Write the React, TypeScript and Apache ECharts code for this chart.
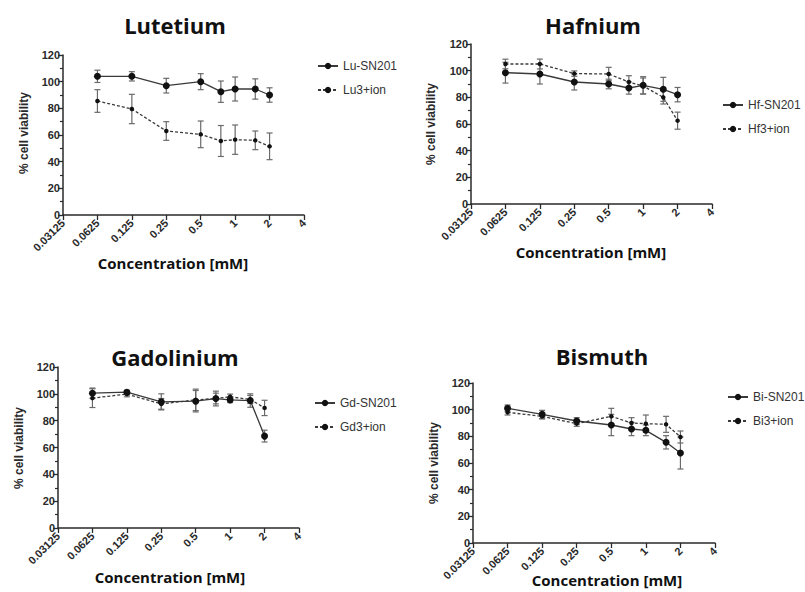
import React, { useEffect, useRef } from "react";
import * as echarts from "echarts";

// ---- data ----
const CONC = [0.0625, 0.125, 0.25, 0.5, 0.75, 1, 1.5, 2];
const X_MIN = 0.03125;
const X_MAX = 4;

const luSN201 = [104, 104, 97, 100, 92.5, 94.5, 94.5, 90];
const luSN201Err = [4.6, 3.5, 5.5, 6, 8, 9, 7.6, 5.4];
const luIon = [85.5, 79.5, 63, 60.5, 55.5, 56.5, 56, 51.5];
const luIonErr = [8.5, 11, 7, 10, 11.6, 11, 7, 10];

const hfSN201 = [98.5, 97.5, 91.5, 90, 87, 89, 86, 82];
const hfSN201Err = [7.8, 7.5, 6, 3.6, 4.6, 6.5, 9, 5.4];
const hfIon = [105, 105, 97.8, 97.5, 91.5, 88.5, 80, 62.5];
const hfIonErr = [3.6, 3.7, 2, 5, 4.7, 6, 5, 6.4];

const gdSN201 = [100.5, 101.2, 94, 94.5, 96.5, 95.5, 95, 68.5];
const gdSN201Err = [3.8, 1.5, 6, 8, 5.5, 2, 5, 4.4];
const gdIon = [96.8, 99.8, 92.5, 95.5, 96.5, 97.8, 95.8, 89.5];
const gdIonErr = [7, 2, 4, 8, 4, 2, 3, 5.7];

const biSN201 = [101, 96.5, 91.5, 88.5, 85.5, 84.5, 75.5, 67.5];
const biSN201Err = [2.5, 3, 2.5, 8, 5, 4, 5, 12];
const biIon = [98, 95, 89.5, 95, 90, 89.5, 89, 79.5];
const biIonErr = [2, 2, 2, 6, 4, 6.5, 6, 4.5];

const Y_MAX = 120;
const Y_INTERVAL = 20;

const TITLES = ["Lutetium", "Hafnium", "Gadolinium", "Bismuth"];
const SERIES_A = ["Lu-SN201", "Hf-SN201", "Gd-SN201", "Bi-SN201"];
const SERIES_B = ["Lu3+ion", "Hf3+ion", "Gd3+ion", "Bi3+ion"];
const Y_NAME = "% cell viability";
const X_NAME = "Concentration [mM]";

const VALUES_A = [luSN201, hfSN201, gdSN201, biSN201];
const ERRS_A = [luSN201Err, hfSN201Err, gdSN201Err, biSN201Err];
const VALUES_B = [luIon, hfIon, gdIon, biIon];
const ERRS_B = [luIonErr, hfIonErr, gdIonErr, biIonErr];

// ---- layout ----
const GRIDS = [
  { left: 63, top: 55, width: 241, height: 160 },
  { left: 471, top: 44, width: 241, height: 160 },
  { left: 58, top: 367, width: 241, height: 161 },
  { left: 473, top: 383, width: 242, height: 160 },
];
const TITLE_POS = [
  [175, 25],
  [593, 25],
  [175, 357],
  [602, 356],
];
const XNAME_POS = [
  [173, 263],
  [591, 252],
  [170, 577],
  [607, 580],
];
const YNAME_POS = [
  [24, 133],
  [431, 124],
  [19, 448],
  [434, 463],
];
const LEGEND_POS = [
  [312, 55],
  [717, 94],
  [309, 392],
  [722, 386],
];

const AXIS_FONT = "'Liberation Sans', Arial, sans-serif";
const TITLE_FONT = "'Open Sans', 'Noto Sans', sans-serif";

function fmt(v: number) {
  return String(Number(Number(v).toPrecision(6)));
}

export default function App() {
  const ref = useRef<HTMLDivElement>(null);

  useEffect(() => {
    if (!ref.current) return;
    const chart = echarts.init(ref.current, null, { renderer: "svg" });

    const grids: any[] = [];
    const xAxes: any[] = [];
    const yAxes: any[] = [];
    const series: any[] = [];
    const legends: any[] = [];
    const graphics: any[] = [];

    const errRender = (params: any, api: any) => {
      const x = api.value(0);
      const y = api.value(1);
      const e = api.value(2);
      const top = api.coord([x, y + e]);
      const bot = api.coord([x, y - e]);
      const cap = 3;
      const style = { stroke: "#6a6a6a", lineWidth: 1.2 };
      return {
        type: "group",
        children: [
          { type: "line", shape: { x1: top[0], y1: top[1], x2: bot[0], y2: bot[1] }, style },
          { type: "line", shape: { x1: top[0] - cap, y1: top[1], x2: top[0] + cap, y2: top[1] }, style },
          { type: "line", shape: { x1: bot[0] - cap, y1: bot[1], x2: bot[0] + cap, y2: bot[1] }, style },
        ],
      };
    };

    for (let i = 0; i < 4; i++) {
      grids.push({ ...GRIDS[i], containLabel: false });
      xAxes.push({
        type: "log",
        logBase: 2,
        gridIndex: i,
        min: X_MIN,
        max: X_MAX,
        axisLine: { show: true, lineStyle: { color: "#2a2a2a", width: 1.5 } },
        axisTick: { show: true, length: 5, lineStyle: { color: "#2a2a2a", width: 1.3 } },
        axisLabel: {
          rotate: 45,
          margin: 6,
          fontFamily: AXIS_FONT,
          fontWeight: "bold",
          fontSize: 11,
          color: "#2a2a2a",
          formatter: (v: number) => fmt(v),
          showMinLabel: true,
          showMaxLabel: true,
        },
        splitLine: { show: false },
        minorTick: { show: false },
      });
      yAxes.push({
        type: "value",
        gridIndex: i,
        min: 0,
        max: Y_MAX,
        interval: Y_INTERVAL,
        axisLine: { show: true, lineStyle: { color: "#2a2a2a", width: 1.5 } },
        axisTick: { show: true, length: 5, lineStyle: { color: "#2a2a2a", width: 1.3 } },
        minorTick: { show: true, splitNumber: 2, length: 3, lineStyle: { color: "#2a2a2a", width: 1.2 } },
        axisLabel: {
          margin: 3,
          fontFamily: AXIS_FONT,
          fontWeight: "bold",
          fontSize: 11,
          color: "#2a2a2a",
        },
        splitLine: { show: false },
      });

      const dataA = CONC.map((c, k) => [c, VALUES_A[i][k]]);
      const dataB = CONC.map((c, k) => [c, VALUES_B[i][k]]);
      const errA = CONC.map((c, k) => [c, VALUES_A[i][k], ERRS_A[i][k]]);
      const errB = CONC.map((c, k) => [c, VALUES_B[i][k], ERRS_B[i][k]]);

      series.push({
        type: "custom",
        name: "errA" + i,
        xAxisIndex: i,
        yAxisIndex: i,
        renderItem: errRender,
        data: errA,
        encode: { x: 0, y: 1 },
        z: 1,
        silent: true,
      });
      series.push({
        type: "custom",
        name: "errB" + i,
        xAxisIndex: i,
        yAxisIndex: i,
        renderItem: errRender,
        data: errB,
        encode: { x: 0, y: 1 },
        z: 1,
        silent: true,
      });
      series.push({
        type: "line",
        name: SERIES_A[i],
        xAxisIndex: i,
        yAxisIndex: i,
        data: dataA,
        symbol: "circle",
        symbolSize: 7,
        itemStyle: { color: "#111" },
        lineStyle: { color: "#3a3a3a", width: 1.3, type: "solid" },
        z: 3,
      });
      series.push({
        type: "line",
        name: SERIES_B[i],
        xAxisIndex: i,
        yAxisIndex: i,
        data: dataB,
        symbol: "circle",
        symbolSize: 4.5,
        itemStyle: { color: "#111" },
        lineStyle: { color: "#3a3a3a", width: 1.3, type: [3, 2] },
        z: 2,
      });

      legends.push({
        left: LEGEND_POS[i][0],
        top: LEGEND_POS[i][1],
        orient: "vertical",
        itemWidth: 20,
        itemHeight: 8,
        itemGap: 12,
        data: [SERIES_A[i], SERIES_B[i]],
        textStyle: { fontFamily: AXIS_FONT, fontSize: 12, color: "#333" },
        selectedMode: false,
      });

      graphics.push({
        type: "text",
        x: TITLE_POS[i][0],
        y: TITLE_POS[i][1],
        style: {
          text: TITLES[i],
          font: "bold 22px " + TITLE_FONT,
          fill: "#111",
          textAlign: "center",
          textVerticalAlign: "middle",
        },
      });
      graphics.push({
        type: "text",
        x: XNAME_POS[i][0],
        y: XNAME_POS[i][1],
        style: {
          text: X_NAME,
          font: "bold 15px " + TITLE_FONT,
          fill: "#111",
          textAlign: "center",
          textVerticalAlign: "middle",
        },
      });
      graphics.push({
        type: "text",
        x: YNAME_POS[i][0],
        y: YNAME_POS[i][1],
        rotation: Math.PI / 2,
        style: {
          text: Y_NAME,
          font: "bold 12px " + AXIS_FONT,
          fill: "#2a2a2a",
          textAlign: "center",
          textVerticalAlign: "middle",
        },
      });
    }

    chart.setOption({
      animation: false,
      backgroundColor: "#fff",
      grid: grids,
      xAxis: xAxes,
      yAxis: yAxes,
      series,
      legend: legends,
      graphic: graphics,
    });

    return () => chart.dispose();
  }, []);

  return (
    <div
      ref={ref}
      style={{ position: "fixed", left: 0, top: 0, width: 805, height: 592 }}
    />
  );
}
